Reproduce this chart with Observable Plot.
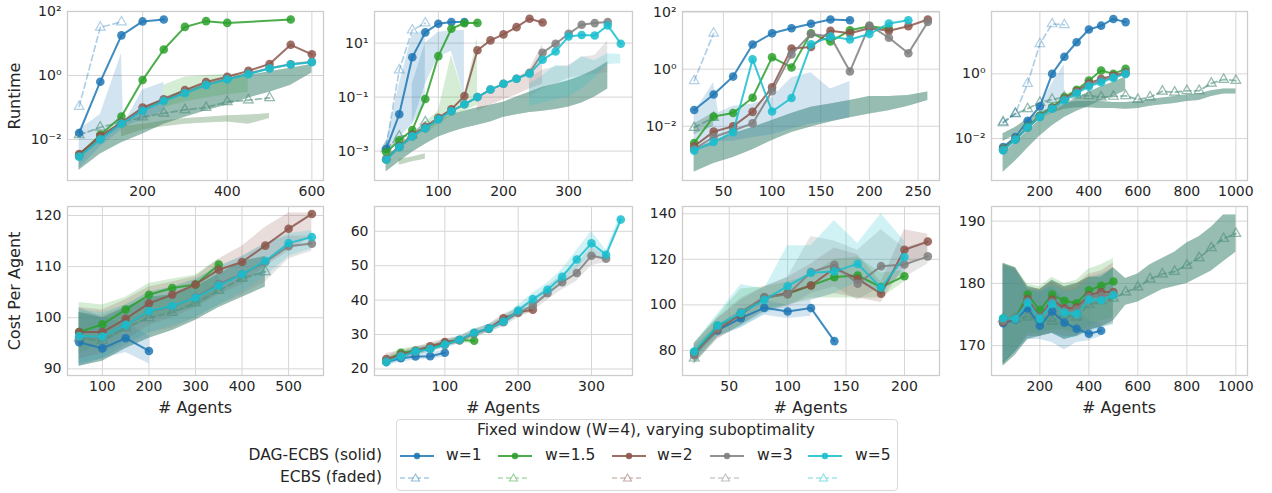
<!DOCTYPE html>
<html><head><meta charset="utf-8">
<script src="https://cdn.jsdelivr.net/npm/d3@7"></script>
<script src="https://cdn.jsdelivr.net/npm/@observablehq/plot@0.6"></script>
<style>
body{margin:0;background:#fff;font-family:"DejaVu Sans",sans-serif;color:#262626;}
#root{position:relative;width:1272px;height:493px;overflow:hidden;background:#fff;}
#root svg{overflow:visible;}
.ylab{position:absolute;font-size:16px;line-height:1;white-space:nowrap;transform:translate(-50%,-50%) rotate(-90deg);}
.xlab{position:absolute;font-size:16px;line-height:1;white-space:nowrap;transform:translate(-50%,-50%);}
.lt{position:absolute;font-size:15.5px;line-height:1;white-space:nowrap;transform:translateY(-50%);}
</style></head><body><div id="root"></div>
<script>
// ---------- labels ----------
const Y_LABELS = ["Runtime", "Cost Per Agent"];
const X_LABEL = "# Agents";
const LEGEND_TITLE = "Fixed window (W=4), varying suboptimality";
const ROW_LABELS = ["DAG-ECBS (solid)", "ECBS (faded)"];
const SERIES_KEYS = ["w1", "w15", "w2", "w3", "w5"];
const SERIES_NAMES = ["w=1", "w=1.5", "w=2", "w=3", "w=5"];

// ---------- ticks ----------
const p1_xticks = [200, 400, 600], p2_xticks = [100, 200, 300], p3_xticks = [50, 100, 150, 200, 250], p4_xticks = [200, 400, 600, 800, 1000];
const p5_xticks = [100, 200, 300, 400, 500], p6_xticks = [100, 200, 300], p7_xticks = [50, 100, 150, 200], p8_xticks = [200, 400, 600, 800, 1000];
const p1_yticks = [1e-2, 1, 1e2], p2_yticks = [1e-3, 1e-1, 1e1], p3_yticks = [1e-2, 1, 1e2], p4_yticks = [1e-2, 1];
const p5_yticks = [90, 100, 110, 120], p6_yticks = [20, 30, 40, 50, 60], p7_yticks = [80, 100, 120, 140], p8_yticks = [170, 180, 190];

// ---------- Panel 1 (runtime) ----------
const p1_x = [50, 100, 150, 200, 250, 300, 350, 400, 450, 500, 550, 600];
const p1_w1 = [0.016, 0.64, 18, 49, 56];
const p1_w15 = [0.0033, 0.014, 0.052, 0.72, 6.5, 33, 50, 44, null, null, 56];
const p1_w2 = [0.0035, 0.013, 0.034, 0.10, 0.18, 0.35, 0.63, 0.91, 1.4, 2.3, 9.1, 4.6];
const p1_w3 = [0.003, 0.0105, 0.032, 0.082, 0.165, 0.29, 0.52, 0.78, 1.15, 1.7, 2.25, 2.7];
const p1_w5 = [0.0029, 0.010, 0.031, 0.079, 0.16, 0.28, 0.50, 0.75, 1.1, 1.66, 2.2, 2.6];
const p1_ecbs_w1 = [0.107, 32, 47];
const p1_ecbs_rest = [0.014, 0.024, 0.035, 0.05, 0.066, 0.085, 0.10, 0.15, 0.17, 0.2];
const p1_band_w1 = [[50,0.0012,0.02],[100,0.006,0.06],[150,0.02,4.8],[155,0.025,0.03],[200,0.04,0.35],[250,0.08,0.6]];
const p1_band_w15 = [[250,0.1,0.5],[300,0.15,0.9],[350,0.2,1.0],[400,0.25,1.1],[450,0.3,1.2]];
const p1_band_dag = [[50,0.0011,0.0035],[100,0.0035,0.012],[150,0.008,0.035],[200,0.015,0.09],[250,0.03,0.2],[300,0.05,0.35],[350,0.08,0.55],[400,0.12,0.8],[450,0.2,1.0],[500,0.3,1.3],[550,0.5,1.7],[600,1.2,2.2]];
const p1_band_ecbs = [[150,0.012,0.025],[200,0.02,0.03],[250,0.025,0.038],[300,0.03,0.045],[350,0.033,0.05],[400,0.035,0.055],[450,0.03,0.058],[500,0.045,0.065]];

// ---------- Panel 2 (runtime) ----------
const p2_x = [20, 40, 60, 80, 100, 120, 140, 160, 180, 200, 220, 240, 260, 280, 300, 320, 340, 360, 380];
const p2_w1 = [0.0012, 0.023, 3.0, 25, 52, 60, 60];
const p2_w15 = [0.0009, 0.0025, 0.006, 0.085, 3.3, 34, 55, 56];
const p2_w2 = [0.0005, 0.0015, 0.004, 0.008, 0.017, 0.035, 0.11, 5.4, 12.6, 21, 39, 80, 58];
const p2_w3 = [0.0005, 0.0014, 0.0035, 0.007, 0.015, 0.03, 0.054, 0.1, 0.19, 0.31, 0.48, 0.8, 4.4, 9.5, 22, 48, 55, 60];
const p2_w5 = [0.00048, 0.0014, 0.0035, 0.007, 0.015, 0.03, 0.054, 0.1, 0.19, 0.31, 0.48, 0.73, 2.4, 4.9, 17.6, 20, 19, 45, 9.5];
const p2_ecbs_w1 = [0.0015, 1.0, 30, 55];
const p2_ecbs_rest = [0.0012, 0.0035, 0.004, 0.012];
const p2_band_ecbs_w1 = [[20,0.0007,0.002],[40,0.003,0.3],[60,0.01,20],[80,0.05,30]];
const p2_band_w1 = [[60,0.01,0.3],[80,0.3,10],[100,3,25],[120,5,28],[140,0.1,30]];
const p2_band_w15 = [[80,0.004,0.012],[100,0.01,0.03],[120,0.02,3.5],[140,0.03,0.1],[160,0.05,15]];
const p2_band_w2 = [[160,0.03,0.1],[180,0.05,0.18],[200,0.08,0.3],[220,0.12,0.5],[240,0.2,1.0],[260,0.3,9]];
const p2_band_w3 = [[240,0.1,0.5],[260,0.2,1.0],[280,0.3,1.3],[300,0.5,1.5],[320,0.6,3],[340,0.7,3.5],[360,0.8,12]];
const p2_band_w5 = [[240,0.045,0.3],[260,0.06,0.6],[280,0.08,1.5],[300,0.1,1.3],[320,0.2,3.2],[340,0.5,2.2],[360,1.6,4],[380,1.7,3.8]];
const p2_band_dag = [[20,0.00017,0.0006],[40,0.0004,0.0015],[60,0.0009,0.003],[80,0.0018,0.006],[100,0.0033,0.014],[120,0.005,0.022],[140,0.007,0.03],[160,0.009,0.04],[180,0.012,0.05],[200,0.018,0.065],[220,0.022,0.1],[240,0.027,0.15],[260,0.03,0.23],[280,0.035,0.3],[300,0.043,0.4],[320,0.06,0.6],[340,0.1,1],[360,0.2,2]];
const p2_band_ecbs = [[40,0.0003,0.0005],[60,0.0004,0.0006],[80,0.0005,0.0008]];

// ---------- Panel 3 (runtime) ----------
const p3_x = [20, 40, 60, 80, 100, 120, 140, 160, 180, 200, 220, 240, 260];
const p3_w1 = [0.037, 0.13, 0.55, 7.3, 18, 27, 39, 55, 52];
const p3_w15 = [0.0026, 0.022, 0.029, 0.10, 2.6, 1.15, 18, 9.3, 23, 32, 26];
const p3_w2 = [0.002, 0.0065, 0.01, 0.032, 0.23, 5.3, 6, 22, 18, 27, 22, 32, 55];
const p3_w3 = [0.0016, 0.0042, 0.0071, 0.0126, 0.17, 3.3, 17, 14, 0.83, 34, 12.6, 3.6, 45];
const p3_w5 = [0.0014, 0.0028, 0.0062, 2.2, 0.033, 0.098, 7.4, 13.8, 11, 17, 40, 52];
const p3_ecbs_w1 = [0.39, 18];
const p3_ecbs_rest = [0.009, 0.02];
const p3_band_w1 = [[20,0.0015,0.03],[40,0.002,0.34],[45,0.003,0.03],[60,0.003,0.05],[80,0.004,0.06],[100,0.005,0.1],[120,0.008,0.5],[140,0.012,0.75],[160,0.015,0.2],[180,0.02,0.37]];
const p3_band_dag = [[20,0.00025,0.0016],[40,0.0005,0.003],[60,0.0008,0.0055],[80,0.0015,0.009],[100,0.0032,0.016],[120,0.006,0.028],[140,0.0095,0.046],[160,0.014,0.06],[180,0.02,0.08],[200,0.027,0.11],[220,0.035,0.11],[240,0.05,0.12],[260,0.08,0.16]];
const p3_band_ecbs = [[20,0.005,0.012],[40,0.01,0.03]];

// ---------- Panel 4 (runtime) ----------
const p4_x = [50, 100, 150, 200, 250, 300, 350, 400, 450, 500, 550, 600, 650, 700, 750, 800, 850, 900, 950, 1000];
const p4_w1 = [0.0054, 0.011, 0.035, 0.098, 1.0, 3.4, 9.5, 23.6, 31, 50, 40];
const p4_w15 = [0.0048, 0.0097, 0.023, 0.051, 0.093, 0.19, 0.32, 0.62, 1.27, 1.0, 1.43];
const p4_w2 = [0.0046, 0.0095, 0.022, 0.048, 0.088, 0.17, 0.29, 0.51, 0.70, 0.89, 1.1];
const p4_w3 = [0.0045, 0.0093, 0.022, 0.047, 0.085, 0.16, 0.27, 0.45, 0.62, 0.8, 1.05];
const p4_w5 = [0.0043, 0.0091, 0.022, 0.046, 0.083, 0.15, 0.25, 0.41, 0.55, 0.75, 1.0];
const p4_ecbs_w1 = [0.03, 0.06, 0.5, 8.5, 35, 33];
const p4_ecbs_rest = [0.032, 0.058, 0.083, 0.13, 0.16, 0.19, 0.22, 0.21, 0.19, 0.2, 0.21, 0.16, 0.19, 0.29, 0.27, 0.30, 0.30, 0.51, 0.67, 0.62];
const p4_band_w1 = [[200,0.05,0.1],[250,0.1,0.5],[300,0.15,1.9]];
const p4_band_dag = [[50,0.0009,0.0035],[100,0.002,0.0075],[150,0.005,0.017],[200,0.012,0.038],[250,0.025,0.065],[300,0.045,0.11],[350,0.07,0.18],[400,0.1,0.27],[450,0.15,0.4],[500,0.2,0.55],[550,0.3,0.8]];
const p4_band_ecbs = [[50,0.008,0.014],[100,0.013,0.022],[150,0.022,0.04],[200,0.04,0.065],[250,0.06,0.09],[300,0.08,0.12],[350,0.09,0.14],[400,0.09,0.14],[450,0.085,0.14],[500,0.085,0.13],[550,0.08,0.13],[600,0.085,0.14],[650,0.1,0.16],[700,0.11,0.18],[750,0.12,0.2],[800,0.14,0.22],[850,0.15,0.24],[900,0.2,0.3],[950,0.24,0.34],[1000,0.24,0.34]];

// ---------- Panel 5 (cost) ----------
const p5_x = [50, 100, 150, 200, 250, 300, 350, 400, 450, 500, 550];
const p5_w1 = [95.2, 94.0, 96.0, 93.5];
const p5_w15 = [97.2, 98.7, 101.6, 104.5, 105.8, 106.5, 110.4];
const p5_w2 = [97.2, 97.2, 99.8, 102.8, 104.5, 106.5, 109.4, 110.9, 114.1, 117.4, 120.3];
const p5_w3 = [96.2, 96.2, 98.6, 101.2, 102.2, 104.0, 106.6, 108.5, 110.9, 114.0, 114.5];
const p5_w5 = [96.4, 96.3, 98.6, 101.3, 102.3, 103.9, 106.3, 108.5, 111.1, 114.6, 115.8];
const p5_ecbs_rest = [96.0, 95.5, 98.0, 100.0, 101.0, 102.9, 105.3, 107.7, 109.0];
const p5_band_w1 = [[50,90.5,102],[100,92,100],[150,93.2,99],[200,91,96.5]];
const p5_band_w15 = [[50,93,103],[100,95,102.5],[150,97.5,104],[200,100,106.7],[250,101,107.6],[300,102,108.3],[350,105,111.5]];
const p5_band_w2 = [[50,92,102],[100,93,101.5],[150,95.5,103.5],[200,98.5,106],[250,100,107],[300,102,108],[350,104.5,111.5],[400,106.5,114],[450,110,117.7],[500,113,120.5],[550,116,120.5]];
const p5_band_w3 = [[50,91,101],[100,92,100.5],[150,94.5,102.5],[200,97,105],[250,98,106],[300,100,107.5],[350,102.5,110],[400,104.5,112],[450,107,114.5],[500,111.5,116],[550,113,116]];
const p5_band_w5 = [[50,91,101.5],[100,92,101],[150,95,102.5],[200,97,105],[250,98.5,106],[300,100,107.5],[350,102.5,110],[400,105,112],[450,108,114.5],[500,112,116.5],[550,113.5,117]];
const p5_band_ecbs = [[50,90.5,101],[100,91.5,100],[150,94,102],[200,96,104],[250,97.5,104.5],[300,99.5,106],[350,102,108.5],[400,104,111],[450,106,112]];

// ---------- Panel 6 (cost) ----------
const p6_x = [20, 40, 60, 80, 100, 120, 140, 160, 180, 200, 220, 240, 260, 280, 300, 320, 340];
const p6_w1 = [22.0, 23.1, 23.6, 23.7, 24.7];
const p6_w15 = [22.4, 24.7, 25.3, 26.0, 27.5, 28.4, 28.2];
const p6_w2 = [22.9, 24.1, 25.3, 26.6, 27.8, 28.4, 30.4, 31.8, 34.7, 36.5, 37.2];
const p6_w3 = [22.4, 23.8, 25.0, 25.9, 27.0, 28.3, 30.3, 31.6, 33.6, 36.3, 38.4, 42.0, 45.2, 47.9, 52.9, 52.0];
const p6_w5 = [22.0, 23.6, 25.1, 25.8, 27.1, 28.5, 30.5, 31.8, 33.8, 37.0, 40.3, 43.0, 46.8, 51.8, 56.5, 53.2, 63.4];
const p6_band_w1 = [[20,21,23],[40,22,24.2],[60,22.6,24.6],[80,22.8,24.7],[100,23.5,25.5]];
const p6_band_w15 = [[20,21.3,23.5],[40,23.5,25.8],[60,24.2,26.5],[80,25,27],[100,26.5,28.5],[120,27.5,29.3],[140,27.5,29]];
const p6_band_w2 = [[20,21.8,24.5],[40,23,25.3],[60,24.3,26.3],[80,25.6,27.6],[100,26.8,28.8],[120,27.5,29.4],[140,29.3,31.5],[160,30.8,33],[180,33.5,36],[200,35.5,37.5],[220,36.5,38]];
const p6_band_w3 = [[20,21.3,23.5],[40,22.8,24.8],[60,24,26],[80,25,26.9],[100,26,28],[120,27.3,29.3],[140,29.2,31.4],[160,30.5,32.8],[180,32.3,35],[200,34.8,37.8],[220,36.8,40],[240,40,44],[260,43,47.4],[280,45.5,50.3],[300,50,55.5],[320,51,53]];
const p6_band_w5 = [[20,21,23],[40,22.6,24.6],[60,24.1,26.1],[80,24.8,26.8],[100,26.1,28.1],[120,27.5,29.6],[140,29.4,31.6],[160,30.6,33],[180,32.5,35.2],[200,35.5,38.5],[220,38.5,42],[240,41,45],[260,44.5,49],[280,49,54.5],[300,53,60],[320,52,54.5],[340,62,65]];

// ---------- Panel 7 (cost) ----------
const p7_x = [20, 40, 60, 80, 100, 120, 140, 160, 180, 200, 220];
const p7_w1 = [79.2, 88.8, 94.2, 98.7, 97.1, 98.6, 84.1];
const p7_w15 = [78.8, 90.7, 96.1, 103.1, 104.9, 108.5, 112.2, 112.9, 107.8, 112.6];
const p7_w2 = [78.5, 89.2, 95.8, 103.1, 105.2, 108.5, 116.1, 111.4, 104.9, 124.2, 127.8];
const p7_w3 = [77.8, 89.5, 96.8, 103.4, 104.6, 114.4, 117.6, 109.3, 117.0, 117.7, 121.3];
const p7_w5 = [79.5, 91.0, 96.4, 102.2, 108.2, 114.1, 114.7, 118.0, 107.5, 121.0];
const p7_ecbs_rest = [76.6];
const p7_band_w1 = [[20,76,82],[40,86,91],[60,90,98],[80,95.5,102],[100,94,100],[120,95,102]];
const p7_band_w15 = [[20,74,83],[40,86,95],[60,91,107],[80,98,108],[100,100,110],[120,103,113],[140,103,120],[160,103,121],[180,103,114],[200,110,115]];
const p7_band_w2 = [[20,74,83],[40,85,94],[60,91,102],[80,97,108],[100,100,112],[120,102,118],[140,105,125],[160,103,122],[180,101,110],[200,117,133],[220,122,131]];
const p7_band_w3 = [[20,74,83],[40,85,94],[60,91,103],[80,97,108],[100,99,112],[120,105,130],[140,108,128],[160,102,124],[180,108,133],[200,112,125],[220,118,128]];
const p7_band_w5 = [[20,74,83],[40,86,96],[60,90,109],[80,96,107],[100,100,126],[120,102,126],[140,105,137],[160,110,127],[180,105,140],[200,115,128]];

// ---------- Panel 8 (cost) ----------
const p8_x = [50, 100, 150, 200, 250, 300, 350, 400, 450, 500, 550, 600, 650, 700, 750, 800, 850, 900, 950, 1000];
const p8_w1 = [173.6, 174.2, 176.0, 173.2, 175.5, 173.7, 172.7, 171.9, 172.4];
const p8_w15 = [174.3, 174.4, 178.2, 175.7, 178.2, 177.2, 176.8, 178.9, 179.6, 180.3];
const p8_w2 = [173.8, 174.3, 177.5, 174.6, 177.4, 176.0, 176.1, 178.1, 178.6, 178.6];
const p8_w3 = [174.0, 174.4, 177.1, 174.5, 177.0, 175.6, 175.8, 177.8, 178.0, 178.3];
const p8_w5 = [174.4, 174.3, 176.9, 174.3, 176.7, 175.3, 175.1, 177.4, 177.3, 178.1];
const p8_ecbs_rest = [174.3, 174.3, 174.6, 174.3, 173.9, 175.0, 174.6, 176.6, 177.2, 177.6, 178.6, 179.4, 180.7, 181.5, 181.9, 182.9, 184.1, 185.7, 187.2, 188.0];
const p8_band_w1 = [[50,167,183],[100,169,182.5],[150,171,179],[200,171,178.5],[250,170.5,179.5],[300,169.3,177.5],[350,170.5,176],[400,170.8,174],[450,171.5,173.6]];
const p8_band_w15 = [[50,167,183.3],[100,169,182.5],[150,172,179.8],[200,172,179.5],[250,172.5,181],[300,172.5,180],[350,172,180.5],[400,173,182.3],[450,174,183],[500,174.5,184]];
const p8_band_w2 = [[50,167,183],[100,169,182.3],[150,171.5,179.3],[200,171.5,179],[250,172,180.3],[300,171.5,179.3],[350,171.5,179.8],[400,172.5,181.5],[450,173,182],[500,173.5,183.3]];
const p8_band_w3 = [[50,167,183],[100,169,182],[150,171.5,179],[200,171.5,178.8],[250,172,180],[300,171.3,179],[350,171.5,179.3],[400,172.3,181],[450,173,181.5],[500,173.5,182.5]];
const p8_band_w5 = [[50,167,183],[100,169,182],[150,171.5,179],[200,171.5,178.7],[250,172,179.8],[300,171.2,178.8],[350,171.3,179],[400,172.3,180.8],[450,172.8,181.3],[500,173.3,182.3]];
const p8_band_ecbs = [[50,166.7,183.2],[100,168.5,182.5],[150,171,179.5],[200,171.5,179],[250,172,180.5],[300,171,179.5],[350,171.5,180],[400,172.5,181],[450,173,181],[500,174,182.5],[550,176.5,180.8],[600,177,181.5],[650,178,183],[700,179,184],[750,179.5,185],[800,180,186.5],[850,181,187.5],[900,182,189],[950,183.5,191],[1000,185,191]];

// ---------- colours ----------
const COLORS = {w1: "#1f77b4", w15: "#2ca02c", w2: "#8c564b", w3: "#7f7f7f", w5: "#17becf"};
const REST = ["w15", "w2", "w3", "w5"];

const SUP = {"-": "\u207b", "0": "\u2070", "1": "\u00b9", "2": "\u00b2", "3": "\u00b3", "4": "\u2074"};
const fmtLog = v => "10" + String(Math.round(Math.log10(v))).split("").map(c => SUP[c]).join("");

const cols = [
  {left: 0, width: 330, ml: 67, mr: 7},
  {left: 330, width: 310, ml: 44, mr: 8},
  {left: 640, width: 307, ml: 42, mr: 8},
  {left: 950, width: 307, ml: 41, mr: 10}
];
const rows = [
  {top: 0, height: 200, mt: 11, mb: 20},
  {top: 200, height: 220, mt: 6, mb: 45}
];

const panels = [
  {r:0,c:0,log:true,xd:[22.5,627.5],yd:[10**-3.28,100],xt:p1_xticks,yt:p1_yticks,x:p1_x,s:{w1:p1_w1,w15:p1_w15,w2:p1_w2,w3:p1_w3,w5:p1_w5},e1:p1_ecbs_w1,eN:p1_ecbs_rest,
   bands:[["dag",p1_band_dag],["ecbs2",p1_band_ecbs],["w15",p1_band_w15],["w1",p1_band_w1]]},
  {r:0,c:1,log:true,xd:[2,398],yd:[10**-4.09,10**2.17],xt:p2_xticks,yt:p2_yticks,x:p2_x,s:{w1:p2_w1,w15:p2_w15,w2:p2_w2,w3:p2_w3,w5:p2_w5},e1:p2_ecbs_w1,eN:p2_ecbs_rest,
   bands:[["dag",p2_band_dag],["ecbs2",p2_band_ecbs],["w1",p2_band_ecbs_w1],["w1",p2_band_w1],["w15",p2_band_w15],["w2",p2_band_w2],["w3",p2_band_w3],["w5",p2_band_w5]]},
  {r:0,c:2,log:true,xd:[8,272],yd:[10**-3.9,10**2.02],xt:p3_xticks,yt:p3_yticks,x:p3_x,s:{w1:p3_w1,w15:p3_w15,w2:p3_w2,w3:p3_w3,w5:p3_w5},e1:p3_ecbs_w1,eN:p3_ecbs_rest,
   bands:[["dag",p3_band_dag],["ecbs2",p3_band_ecbs],["w1",p3_band_w1]]},
  {r:0,c:3,log:true,xd:[2.5,1047.5],yd:[10**-3.3,10**1.93],xt:p4_xticks,yt:p4_yticks,x:p4_x,s:{w1:p4_w1,w15:p4_w15,w2:p4_w2,w3:p4_w3,w5:p4_w5},e1:p4_ecbs_w1,eN:p4_ecbs_rest,
   bands:[["ecbs",p4_band_ecbs],["dag",p4_band_dag],["w1",p4_band_w1]]},
  {r:1,c:0,log:false,xd:[25,575],yd:[88.7,121.76],xt:p5_xticks,yt:p5_yticks,x:p5_x,s:{w1:p5_w1,w15:p5_w15,w2:p5_w2,w3:p5_w3,w5:p5_w5},e1:[],eN:p5_ecbs_rest,
   bands:[["ecbs",p5_band_ecbs],["w1",p5_band_w1],["w15",p5_band_w15],["w2",p5_band_w2],["w3",p5_band_w3],["w5",p5_band_w5]]},
  {r:1,c:1,log:false,xd:[4,356],yd:[18.1,67.2],xt:p6_xticks,yt:p6_yticks,x:p6_x,s:{w1:p6_w1,w15:p6_w15,w2:p6_w2,w3:p6_w3,w5:p6_w5},e1:[],eN:[],
   bands:[["w1",p6_band_w1],["w15",p6_band_w15],["w2",p6_band_w2],["w3",p6_band_w3],["w5",p6_band_w5]]},
  {r:1,c:2,log:false,xd:[10,230],yd:[69,143.2],xt:p7_xticks,yt:p7_yticks,x:p7_x,s:{w1:p7_w1,w15:p7_w15,w2:p7_w2,w3:p7_w3,w5:p7_w5},e1:[],eN:p7_ecbs_rest,
   bands:[["w1",p7_band_w1],["w15",p7_band_w15],["w2",p7_band_w2],["w3",p7_band_w3],["w5",p7_band_w5]]},
  {r:1,c:3,log:false,xd:[2.5,1047.5],yd:[165.2,192.35],xt:p8_xticks,yt:p8_yticks,x:p8_x,s:{w1:p8_w1,w15:p8_w15,w2:p8_w2,w3:p8_w3,w5:p8_w5},e1:[],eN:p8_ecbs_rest,
   bands:[["ecbs",p8_band_ecbs],["w1",p8_band_w1],["w15",p8_band_w15],["w2",p8_band_w2],["w3",p8_band_w3],["w5",p8_band_w5]]}
];

const root = document.getElementById("root");
const pts = (xs, ys) => xs.map((x, i) => [x, ys[i]]).filter(d => d[1] != null);

function bandMarks(key, data) {
  const keys = (key === "dag" || key === "ecbs") ? REST : key === "ecbs2" ? ["w15", "w3"] : [key];
  return keys.map(k => Plot.areaY(data, {x: d => d[0], y1: d => d[1], y2: d => d[2], fill: COLORS[k], fillOpacity: 0.2, clip: true}));
}
function ecbsMarks(data, color, op) {
  return [
    Plot.line(data, {x: d => d[0], y: d => d[1], stroke: color, strokeWidth: 1.7, strokeDasharray: "6,3.5", strokeOpacity: op, clip: true}),
    Plot.dot(data, {x: d => d[0], y: d => d[1], symbol: "triangle", r: 3.6, stroke: color, strokeWidth: 1.2, fill: "white", fillOpacity: 0, strokeOpacity: op, clip: true})
  ];
}
function dagMarks(data, color) {
  return [
    Plot.line(data, {x: d => d[0], y: d => d[1], stroke: color, strokeWidth: 2, strokeOpacity: 0.85, clip: true}),
    Plot.dot(data, {x: d => d[0], y: d => d[1], r: 4.3, fill: color, fillOpacity: 0.85, clip: true})
  ];
}

panels.forEach(p => {
  const col = cols[p.c], row = rows[p.r];
  const marks = [
    Plot.gridX({ticks: p.xt, stroke: "#d6d6d6", strokeOpacity: 1, strokeWidth: 1}),
    Plot.gridY({ticks: p.yt, stroke: "#d6d6d6", strokeOpacity: 1, strokeWidth: 1}),
  ];
  p.bands.forEach(([k, d]) => marks.push(...bandMarks(k, d)));
  const eN = pts(p.x, p.eN);
  if (eN.length) REST.forEach(k => marks.push(...ecbsMarks(eN, COLORS[k], 0.2)));
  const e1 = pts(p.x, p.e1);
  if (e1.length) marks.push(...ecbsMarks(e1, COLORS.w1, 0.35));
  SERIES_KEYS.forEach(k => marks.push(...dagMarks(pts(p.x, p.s[k]), COLORS[k])));
  marks.push(Plot.frame({stroke: "#cccccc", strokeWidth: 1.3}));
  marks.push(Plot.axisX({ticks: p.xt, tickSize: 0, tickPadding: 6, tickFormat: d => String(d), label: null}));
  marks.push(Plot.axisY({ticks: p.yt, tickSize: 0, tickPadding: 6, tickFormat: p.log ? fmtLog : (d => String(d)), label: null}));
  const chart = Plot.plot({
    width: col.width, height: row.height,
    marginLeft: col.ml, marginRight: col.mr, marginTop: row.mt, marginBottom: row.mb,
    x: {domain: p.xd},
    y: p.log ? {type: "log", domain: p.yd} : {domain: p.yd},
    style: {fontFamily: "DejaVu Sans", fontSize: "14px", color: "#262626", background: "transparent", overflow: "visible"},
    marks
  });
  chart.style.position = "absolute";
  chart.style.left = col.left + "px";
  chart.style.top = row.top + "px";
  root.appendChild(chart);
  if (p.r === 1) {
    const xl = document.createElement("div");
    xl.className = "xlab"; xl.textContent = X_LABEL;
    xl.style.left = (col.left + col.ml + (col.width - col.ml - col.mr) / 2) + "px";
    xl.style.top = "408px";
    root.appendChild(xl);
  }
});

// y labels
[[Y_LABELS[0], 95.5], [Y_LABELS[1], 290.5]].forEach(([t, y]) => {
  const d = document.createElement("div");
  d.className = "ylab"; d.textContent = t;
  d.style.left = "15px"; d.style.top = y + "px";
  root.appendChild(d);
});

// legend
const box = document.createElement("div");
Object.assign(box.style, {position: "absolute", left: "396px", top: "419px", width: "502px", height: "72px", border: "1px solid #d9d9d9", borderRadius: "4px", boxSizing: "border-box", background: "#fff"});
root.appendChild(box);
const title = document.createElement("div");
title.className = "lt"; title.textContent = LEGEND_TITLE;
Object.assign(title.style, {left: "646px", top: "431px", transform: "translate(-50%,-50%)"});
root.appendChild(title);
[[ROW_LABELS[0], 456], [ROW_LABELS[1], 478]].forEach(([t, y]) => {
  const d = document.createElement("div");
  d.className = "lt"; d.textContent = t;
  Object.assign(d.style, {right: (1272 - 382) + "px", top: y + "px"});
  root.appendChild(d);
});
const swX = [400, 498, 612, 710, 808];
const labX = [446, 545, 657, 757, 855];
const ns = "http://www.w3.org/2000/svg";
const lsvg = document.createElementNS(ns, "svg");
lsvg.setAttribute("width", 1272); lsvg.setAttribute("height", 493);
Object.assign(lsvg.style, {position: "absolute", left: "0px", top: "0px", pointerEvents: "none"});
function el(name, attrs) { const e = document.createElementNS(ns, name); for (const k in attrs) e.setAttribute(k, attrs[k]); lsvg.appendChild(e); return e; }
SERIES_KEYS.forEach((k, i) => {
  const c = COLORS[k], x0 = swX[i];
  el("line", {x1: x0, x2: x0 + 34, y1: 456, y2: 456, stroke: c, "stroke-width": 2, "stroke-opacity": 0.85});
  el("circle", {cx: x0 + 17, cy: 456, r: 3.2, fill: c, "fill-opacity": 0.9});
  el("line", {x1: x0, x2: x0 + 31, y1: 478, y2: 478, stroke: c, "stroke-width": 1.6, "stroke-dasharray": "5,3", "stroke-opacity": 0.4});
  el("path", {d: `M${x0 + 15.5},${474} L${x0 + 19.5},${481} L${x0 + 11.5},${481} Z`, fill: "white", stroke: c, "stroke-width": 1.1, "stroke-opacity": 0.5});
  const t = document.createElement("div");
  t.className = "lt"; t.textContent = SERIES_NAMES[i];
  Object.assign(t.style, {left: labX[i] + "px", top: "456px"});
  root.appendChild(t);
});
root.appendChild(lsvg);
</script></body></html>
